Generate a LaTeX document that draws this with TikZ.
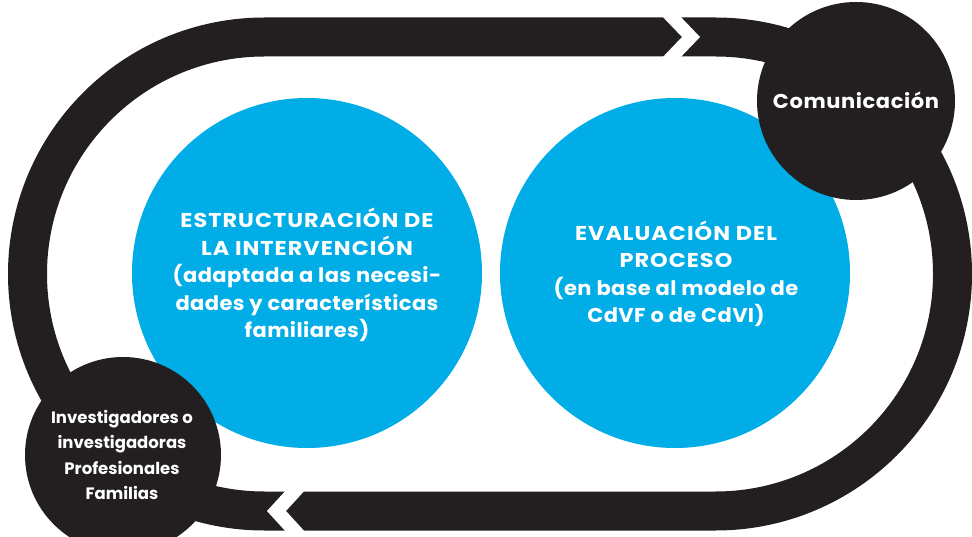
\documentclass[tikz,border=0pt]{standalone}
\usepackage{fontspec}
\setmainfont{Poppins}
\newfontfamily\capsfont{Poppins}[FakeStretch=1.12,LetterSpace=5]
\newfontfamily\lowfont{Poppins}[FakeStretch=1.05,LetterSpace=2]
\newfontfamily\comfont{Poppins}[FakeStretch=1.05,LetterSpace=3]
\definecolor{loopblack}{HTML}{231F20}
\definecolor{cyanblue}{HTML}{00ADE6}
\tikzset{
  band/.style={draw=loopblack, line width=39pt},
  gap/.style={fill=white, draw=none},
  bluecircle/.style={circle, fill=cyanblue, draw=none, minimum size=350pt, inner sep=0pt},
  blackcircle/.style={circle, fill=loopblack, draw=none, inner sep=0pt},
  bluetext/.style={text=white, align=center, inner sep=0pt, font=\bfseries\fontsize{20}{27.5}\selectfont},
  blacktext/.style={text=white, align=center, inner sep=0pt, font=\bfseries\fontsize{16.5}{25.3}\selectfont}
}
\begin{document}
\begin{tikzpicture}[x=1pt,y=1pt]
\useasboundingbox (0,0) rectangle (972,536);
% loop band
\draw[band] (264.5,499) -- (715.5,499) arc (90:-90:237) -- (264.5,25) arc (270:90:237) -- cycle;
% chevron gaps
\fill[gap] (659,523) -- (682,499) -- (659,475) -- (677,475) -- (700,499) -- (677,523) -- cycle;
\fill[gap] (288,48) -- (267,25) -- (288,2) -- (307,2) -- (286,25) -- (307,48) -- cycle;
% blue circles
\node[bluecircle] (struct) at (307,263) {};
\node[bluecircle] (eval) at (675,263) {};
% black circles
\node[blackcircle, minimum size=198pt] (com) at (856,435) {};
\node[blackcircle, minimum size=196pt] (inv) at (123,81) {};
% texts
\node[bluetext] (structtext) at (307,261) {{\capsfont ESTRUCTURACIÓN DE}\\{\capsfont LA INTERVENCIÓN}\\{\lowfont (adaptada a las necesi-}\\{\lowfont dades y características}\\{\lowfont familiares)}};
\node[bluetext] (evaltext) at (676,262) {{\capsfont EVALUACIÓN DEL}\\{\capsfont PROCESO}\\{\lowfont (en base al modelo de}\\{\lowfont CdVF o de CdVI)}};
\node[text=white, inner sep=0pt, font=\bfseries\fontsize{20}{24}\selectfont] (comtext) at (856,436) {\comfont Comunicación};
\node[blacktext] (invtext) at (122,81) {Investigadores o\\investigadoras\\Profesionales\\Familias};
\end{tikzpicture}
\end{document}
